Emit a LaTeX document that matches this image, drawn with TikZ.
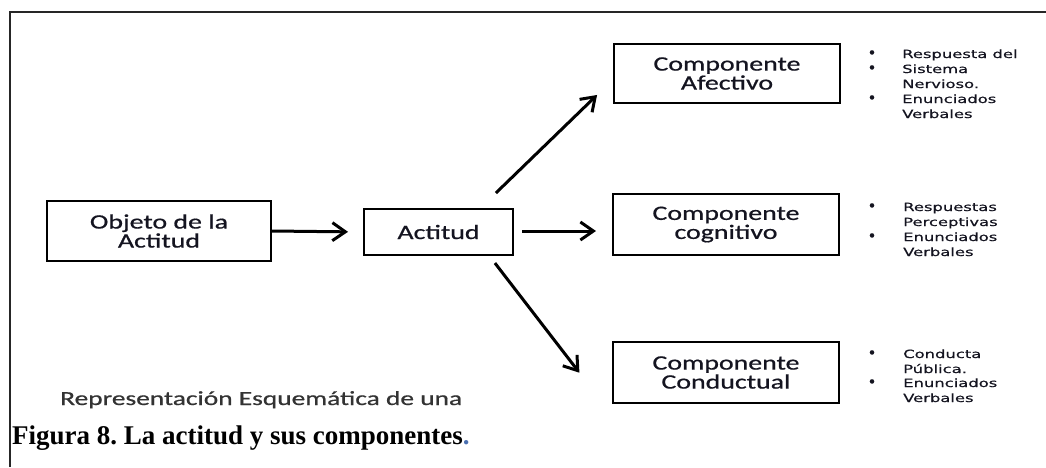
\documentclass[tikz,border=0pt]{standalone}
\usepackage{fontspec}
\usetikzlibrary{arrows.meta}
\setmainfont{Liberation Serif}
\newfontfamily\carl{Carlito}[RawFeature={embolden=0.6}]
\newfontfamily\dejav{DejaVu Sans}[RawFeature={embolden=0.5}]
\definecolor{txt}{HTML}{141420}
\definecolor{reprgray}{HTML}{333333}
\definecolor{capblue}{HTML}{4A6FB0}
\newcommand{\bxt}[1]{\scalebox{1.36}[1]{#1}}
\newcommand{\lst}[1]{\scalebox{1.45}[1]{#1}}
\frenchspacing
\begin{document}
\begin{tikzpicture}[x=1pt,y=-1pt,
 box/.style={draw=black, line width=2pt, inner sep=0pt, align=center, text=txt,
   font=\carl\fontsize{20.5}{19}\selectfont},
 arr/.style={line width=3pt, -{Straight Barb[length=13pt,width=18pt]}},
 li/.style={anchor=base west, inner sep=0pt, text=txt, font=\dejav\fontsize{11.3}{15}\selectfont},
 bu/.style={anchor=base, inner sep=0pt, text=txt, font=\dejav\fontsize{15}{15}\selectfont},
]
\useasboundingbox (0,0) rectangle (1046,467);
% frame
\draw[line width=2pt, black!85] (10,467) -- (10,12) -- (1046,12);

% boxes
\node[box, minimum width=224pt, minimum height=60pt] (obj) at (159,231) {\bxt{Objeto de la}\\\bxt{Actitud}};
\node[box, minimum width=149pt, minimum height=46pt] (act) at (438.5,232) {\bxt{Actitud}};
\node[box, minimum width=226pt, minimum height=59pt] (afe) at (727,73.5) {\bxt{Componente}\\\bxt{Afectivo}};
\node[box, minimum width=226pt, minimum height=61pt] (cog) at (726,224.5) {\bxt{Componente}\\\bxt{cognitivo}};
\node[box, minimum width=226pt, minimum height=61pt] (con) at (726,372.5) {\bxt{Componente}\\\bxt{Conductual}};

% arrows
\draw[arr, shorten >=15pt] (obj.east) -- (act.west);
\draw[arr, shorten <=8pt, shorten >=16pt] ([yshift=1pt]act.east) -- ([yshift=1pt]act.east -| cog.west);
\draw[arr, shorten <=21.6pt, shorten >=22.2pt] ([xshift=-33.6pt]act.north east) -- ([yshift=-6pt]afe.west);
\draw[arr, shorten <=8.9pt, shorten >=53.4pt] ([xshift=-24.5pt]act.south east) -- ([yshift=-11pt]con.south west);

% list 1
\node[bu] (a1) at (872,58) {•};
\node[li] (at1) at (902,58) {\lst{Respuesta del}};
\node[bu] (a2) at (872,73) {•};
\node[li] (at2) at (902,73) {\lst{Sistema}};
\node[li] (at3) at (902,88) {\lst{Nervioso.}};
\node[bu] (a4) at (872,103) {•};
\node[li] (at4) at (902,103) {\lst{Enunciados}};
\node[li] (at5) at (902,118) {\lst{Verbales}};

% list 2
\node[bu] (c1) at (872,211) {•};
\node[li] (ct1) at (903,211) {\lst{Respuestas}};
\node[li] (ct2) at (903,226) {\lst{Perceptivas}};
\node[bu] (c3) at (872,241) {•};
\node[li] (ct3) at (903,241) {\lst{Enunciados}};
\node[li] (ct4) at (903,256) {\lst{Verbales}};

% list 3
\node[bu] (d1) at (872,358) {•};
\node[li] (dt1) at (903,358) {\lst{Conducta}};
\node[li] (dt2) at (903,373) {\lst{Pública.}};
\node[bu] (d3) at (872,387) {•};
\node[li] (dt3) at (903,387) {\lst{Enunciados}};
\node[li] (dt4) at (903,402) {\lst{Verbales}};

% texts at bottom
\node[anchor=base west, inner sep=0pt, text=reprgray, font=\carl\fontsize{20}{20}\selectfont] (rep) at (60,405) {\scalebox{1.37}[1]{Representación Esquemática de una}};
\node[anchor=base west, inner sep=0pt, font=\bfseries\fontsize{27}{27}\selectfont] (cap) at (12,444) {Figura 8. La actitud y sus componentes\textcolor{capblue}{.}};
\end{tikzpicture}
\end{document}
